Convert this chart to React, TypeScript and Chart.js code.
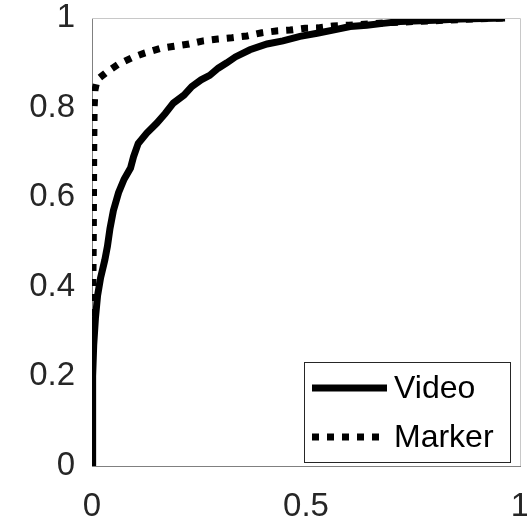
import React, { useEffect, useRef } from "react";
import { Chart, registerables } from "chart.js";

Chart.register(...registerables);

const seriesNames = ["Video", "Marker"];

const videoX = [0, 0.001, 0.002, 0.004, 0.008, 0.013, 0.02, 0.03, 0.036, 0.042, 0.05, 0.062, 0.075, 0.09, 0.097, 0.108, 0.128, 0.151, 0.171, 0.19, 0.215, 0.233, 0.255, 0.275, 0.295, 0.315, 0.335, 0.369, 0.409, 0.446, 0.486, 0.526, 0.563, 0.603, 0.642, 0.68, 0.72, 0.8, 0.86, 0.965];
const videoY = [0, 0.1, 0.2, 0.27, 0.33, 0.38, 0.42, 0.46, 0.49, 0.53, 0.57, 0.61, 0.64, 0.665, 0.69, 0.72, 0.743, 0.765, 0.787, 0.81, 0.828, 0.847, 0.862, 0.872, 0.888, 0.9, 0.913, 0.929, 0.942, 0.949, 0.959, 0.966, 0.973, 0.981, 0.984, 0.988, 0.992, 0.995, 0.998, 1.0];

const markerX = [0, 0.001, 0.003, 0.004, 0.005, 0.007, 0.012, 0.034, 0.062, 0.093, 0.124, 0.159, 0.192, 0.227, 0.26, 0.294, 0.327, 0.362, 0.397, 0.43, 0.463, 0.498, 0.528, 0.563, 0.6, 0.65, 0.7, 0.8, 0.9, 0.965];
const markerY = [0, 0.3, 0.5, 0.7, 0.8, 0.84, 0.862, 0.879, 0.897, 0.911, 0.922, 0.932, 0.937, 0.942, 0.949, 0.953, 0.956, 0.96, 0.967, 0.971, 0.973, 0.977, 0.978, 0.982, 0.984, 0.987, 0.99, 0.994, 0.998, 1.0];

const xTicks = [0, 0.5, 1];
const yTicks = [0, 0.2, 0.4, 0.6, 0.8, 1];

const FONT = "'Liberation Sans', Arial, sans-serif";

const frameAndLegend = {
  id: "frameAndLegend",
  afterDraw(chart: any) {
    const { ctx, chartArea } = chart;
    const { left, right, top, bottom } = chartArea;
    ctx.save();
    ctx.strokeStyle = "#c8c8c8";
    ctx.lineWidth = 1;
    ctx.beginPath();
    ctx.moveTo(left, top + 0.5);
    ctx.lineTo(right + 0.5, top + 0.5);
    ctx.lineTo(right + 0.5, bottom);
    ctx.stroke();

    // legend box
    const bx = 304.5, by = 362.5, bw = 206, bh = 100;
    ctx.fillStyle = "#ffffff";
    ctx.fillRect(bx, by, bw, bh);
    ctx.strokeStyle = "#262626";
    ctx.lineWidth = 1;
    ctx.strokeRect(bx, by, bw, bh);
    const rows = [388, 437];
    chart.data.datasets.forEach((ds: any, i: number) => {
      const y = rows[i];
      ctx.beginPath();
      ctx.strokeStyle = ds.borderColor;
      ctx.lineWidth = ds.borderWidth;
      ctx.lineCap = "butt";
      ctx.setLineDash(ds.borderDash || []);
      ctx.moveTo(312, y);
      ctx.lineTo(387, y);
      ctx.stroke();
      ctx.setLineDash([]);
      ctx.fillStyle = "#000000";
      ctx.font = `32px ${FONT}`;
      ctx.textBaseline = "middle";
      ctx.textAlign = "left";
      ctx.fillText(ds.label, 394, y + 1);
    });
    ctx.restore();
  },
};

export default function App() {
  const ref = useRef<HTMLCanvasElement>(null);
  useEffect(() => {
    document.body.style.margin = "0";
    const canvas = ref.current!;
    const chart = new Chart(canvas, {
      type: "line",
      data: {
        datasets: [
          {
            label: seriesNames[0],
            data: videoX.map((x, i) => ({ x, y: videoY[i] })),
            borderColor: "#000000",
            borderWidth: 7,
            pointRadius: 0,
            tension: 0,
            fill: false,
          },
          {
            label: seriesNames[1],
            data: markerX.map((x, i) => ({ x, y: markerY[i] })),
            borderColor: "#000000",
            borderWidth: 7,
            borderDash: [7, 8],
            pointRadius: 0,
            tension: 0,
            fill: false,
          },
        ],
      },
      options: {
        animation: false,
        responsive: false,
        layout: { padding: { top: 18, right: 7, left: 0, bottom: 0 } },
        plugins: { legend: { display: false }, tooltip: { enabled: false } },
        scales: {
          x: {
            type: "linear",
            min: 0,
            max: 1,
            afterBuildTicks: (s: any) => {
              s.ticks = xTicks.map((v) => ({ value: v }));
            },
            afterFit: (s: any) => {
              s.height = 58;
              s.paddingLeft = 0;
              s.paddingRight = 0;
            },
            ticks: {
              font: { size: 33, family: FONT },
              color: "#262626",
              padding: 21,
              maxRotation: 0,
              callback: (v: any) => String(v),
            },
            grid: { display: false, drawTicks: false },
            border: { color: "#808080", width: 1 },
          },
          y: {
            type: "linear",
            min: 0,
            max: 1,
            afterBuildTicks: (s: any) => {
              s.ticks = yTicks.map((v) => ({ value: v }));
            },
            afterFit: (s: any) => {
              s.width = 92;
              s.paddingTop = 0;
              s.paddingBottom = 0;
            },
            ticks: {
              font: { size: 33, family: FONT },
              color: "#262626",
              padding: 17,
              callback: (v: any) => String(v),
            },
            grid: { display: false, drawTicks: false },
            border: { color: "#808080", width: 1 },
          },
        },
      },
      plugins: [frameAndLegend],
    });
    return () => chart.destroy();
  }, []);
  return (
    <div style={{ position: "fixed", left: 0, top: 0, width: 527, height: 524, background: "#fff" }}>
      <canvas ref={ref} width={527} height={524} style={{ display: "block" }} />
    </div>
  );
}
